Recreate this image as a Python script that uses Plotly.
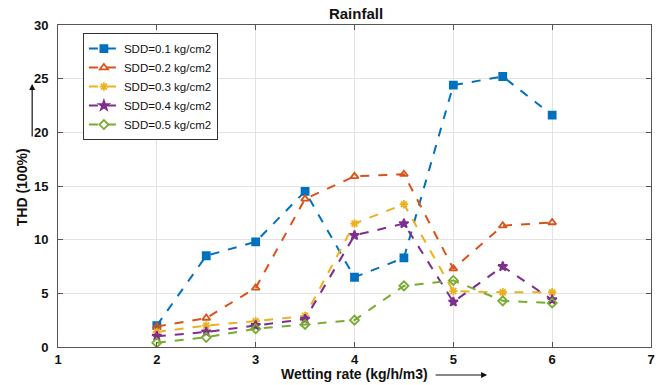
import plotly.graph_objects as go

x_vals = [2, 2.5, 3, 3.5, 4, 4.5, 5, 5.5, 6]
sdd_01 = [2.0, 8.5, 9.8, 14.5, 6.5, 8.3, 24.4, 25.2, 21.6]
sdd_02 = [1.9, 2.7, 5.5, 13.8, 15.9, 16.1, 7.3, 11.3, 11.6]
sdd_03 = [1.4, 2.0, 2.4, 2.9, 11.5, 13.3, 5.2, 5.1, 5.1]
sdd_04 = [1.0, 1.4, 2.0, 2.6, 10.4, 11.5, 4.2, 7.5, 4.4]
sdd_05 = [0.4, 0.9, 1.7, 2.1, 2.5, 5.7, 6.2, 4.3, 4.1]
names = ["SDD=0.1 kg/cm2", "SDD=0.2 kg/cm2", "SDD=0.3 kg/cm2", "SDD=0.4 kg/cm2", "SDD=0.5 kg/cm2"]
colors = ["#0072BD", "#D95319", "#EDB120", "#7E2F8E", "#77AC30"]
symbols = ["square", "triangle-up-open", "asterisk-open", "star", "diamond-open"]
x_ticks = [1, 2, 3, 4, 5, 6, 7]
y_ticks = [0, 5, 10, 15, 20, 25, 30]

fig = go.Figure()
for ys, nm, c, s in zip([sdd_01, sdd_02, sdd_03, sdd_04, sdd_05], names, colors, symbols):
    fig.add_trace(go.Scatter(
        x=x_vals, y=ys, name=nm, mode="lines+markers",
        line=dict(color=c, width=2, dash="dash"),
        marker=dict(symbol=s, size=7, color=c, line=dict(color=c, width=1.8)),
    ))

font_main = "Liberation Sans, Arial, sans-serif"
fig.update_layout(
    width=661, height=385,
    margin=dict(l=58, r=6, t=25, b=38),
    paper_bgcolor="white", plot_bgcolor="white",
    font=dict(family=font_main, color="#111"),
    title=dict(text="<b>Rainfall</b>", x=(356 / 661), xanchor="center", y=1 - 14 / 385, yanchor="middle",
               font=dict(size=15, color="#111")),
    showlegend=True,
    legend=dict(x=0.042, y=0.975, xanchor="left", yanchor="top",
                bgcolor="white", bordercolor="#333", borderwidth=1,
                font=dict(size=11.5, color="#111"), tracegroupgap=0, itemwidth=30),
    xaxis=dict(range=[1, 7], tickvals=x_ticks, ticktext=["<b>%d</b>" % t for t in x_ticks],
               showgrid=True, gridcolor="#e3e3e3", showline=True, linecolor="#555", linewidth=1,
               mirror="ticks", ticks="inside", ticklen=5, tickcolor="#555",
               tickfont=dict(size=13, color="#111"), zeroline=False),
    yaxis=dict(range=[0, 30], tickvals=y_ticks, ticktext=["<b>%d</b>" % t for t in y_ticks],
               showgrid=True, gridcolor="#e3e3e3", showline=True, linecolor="#555", linewidth=1,
               mirror="ticks", ticks="inside", ticklen=5, tickcolor="#555",
               tickfont=dict(size=13, color="#111"), zeroline=False, ticklabelstandoff=6),
)

# axis titles as annotations
fig.add_annotation(text="<b>Wetting rate (kg/h/m3)</b>", xref="paper", yref="paper",
                   x=(357 - 58) / 597, y=-(374 - 347) / 322, xanchor="center", yanchor="middle",
                   showarrow=False, font=dict(size=14, color="#111"))
fig.add_annotation(xref="paper", yref="paper", x=(490 - 58) / 597, y=-(375 - 347) / 322,
                   ax=-53, ay=0, axref="pixel", ayref="pixel",
                   text="", showarrow=True, arrowhead=2, arrowsize=1, arrowwidth=1.2, arrowcolor="#111")
fig.add_annotation(text="<b>THD (100%)</b>", xref="paper", yref="paper",
                   x=-(58 - 22) / 597, y=(347 - 187) / 322, xanchor="center", yanchor="middle",
                   textangle=-90, showarrow=False, font=dict(size=14, color="#111"))
fig.add_annotation(xref="paper", yref="paper", x=-(58 - 32) / 597, y=(347 - 84) / 322,
                   ax=0, ay=54, axref="pixel", ayref="pixel",
                   text="", showarrow=True, arrowhead=2, arrowsize=1, arrowwidth=1.2, arrowcolor="#111")

fig.write_html("out.html", config={"displayModeBar": False},
               post_script="document.body.style.margin='0';document.body.style.overflow='hidden';")
